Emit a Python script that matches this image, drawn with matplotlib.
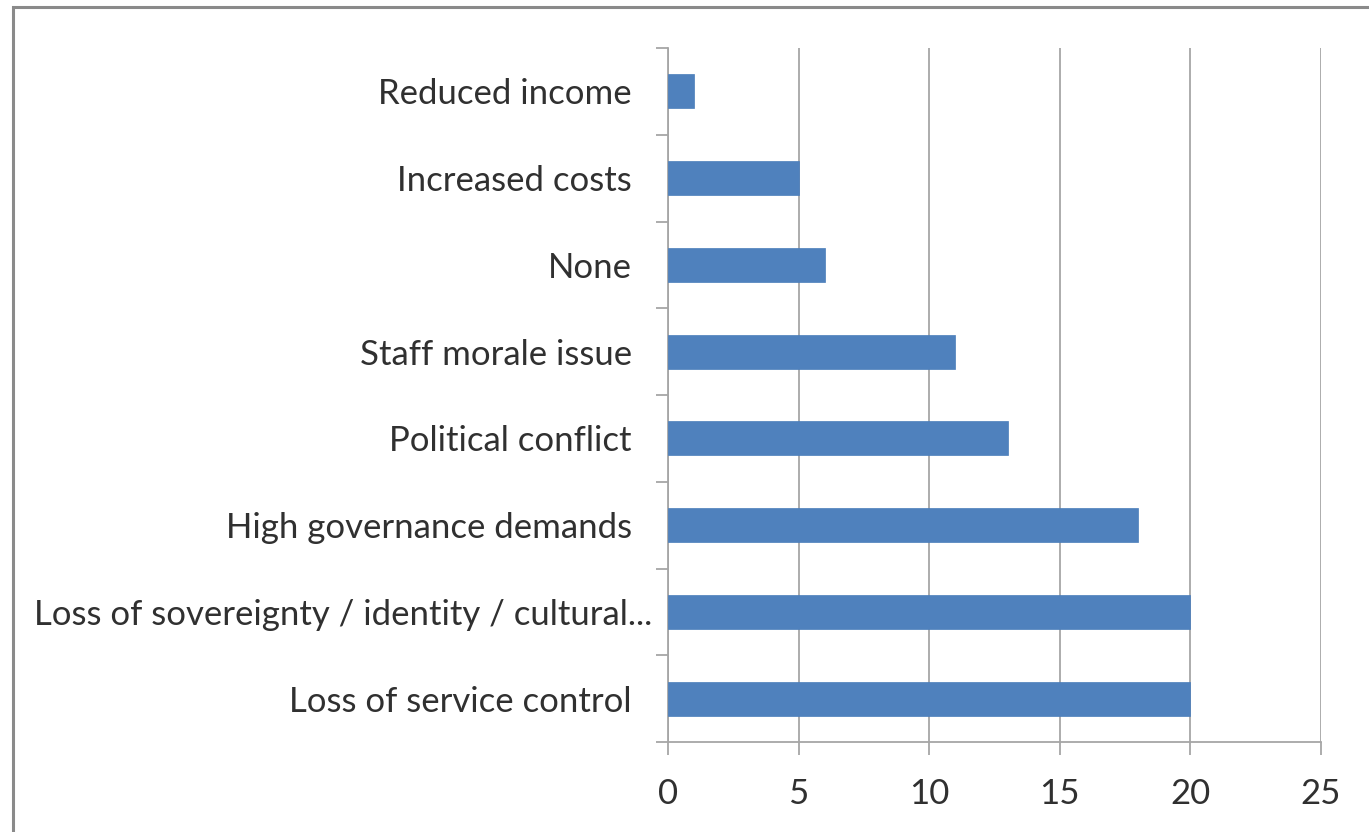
import matplotlib.pyplot as plt
from matplotlib.patches import Rectangle
from matplotlib.transforms import ScaledTranslation

categories = [
    "Loss of service control",
    "Loss of sovereignty / identity / cultural...",
    "High governance demands",
    "Political conflict",
    "Staff morale issue",
    "None",
    "Increased costs",
    "Reduced income",
]
counts = [20, 20, 18, 13, 11, 6, 5, 1]
xticks = [0, 5, 10, 15, 20, 25]

plt.rcParams["font.family"] = ["Lato", "DejaVu Sans"]

fig = plt.figure(figsize=(13.69, 8.32), dpi=100)
ax = fig.add_axes([668 / 1369, 1 - 742 / 832, (1321 - 668) / 1369, (742 - 48) / 832])

# outer chart border (left and top visible)
fig.patches.append(Rectangle((13 / 1369, -0.1), 1.2, (832 - 7) / 832 + 0.1,
                             transform=fig.transFigure, fill=False,
                             edgecolor="#8a8a8a", linewidth=2.2))

y = range(len(categories))
ax.barh(y, counts, height=0.39, color="#4F81BD", edgecolor="#4A7DBA", linewidth=0.5, zorder=3)

ax.set_xlim(0, 25)
ax.set_ylim(-0.5, len(categories) - 0.5)
ax.set_xticks(xticks)
ax.set_yticks(list(y))
ax.set_yticklabels(categories)
ax.set_yticks([i - 0.5 for i in range(len(categories) + 1)], minor=True)

ax.grid(axis="x", color="#a6a6a6", linewidth=1.3, zorder=0)
for s in ["top", "right"]:
    ax.spines[s].set_visible(False)
for s in ["left", "bottom"]:
    ax.spines[s].set_color("#a6a6a6")
    ax.spines[s].set_linewidth(1.3)

ax.tick_params(axis="y", which="major", length=0, pad=26, labelsize=25, labelcolor="#303030")
ax.tick_params(axis="y", which="minor", length=9, width=1.3, color="#a6a6a6")
ax.tick_params(axis="x", length=9, width=1.3, color="#a6a6a6", pad=17, labelsize=25, labelcolor="#303030")

# the truncated label sits a little closer to the axis
lab = ax.get_yticklabels()[1]
lab.set_transform(lab.get_transform() + ScaledTranslation(15 / 72, 0, fig.dpi_scale_trans))

fig.savefig("out.png", dpi=100, facecolor="white")
